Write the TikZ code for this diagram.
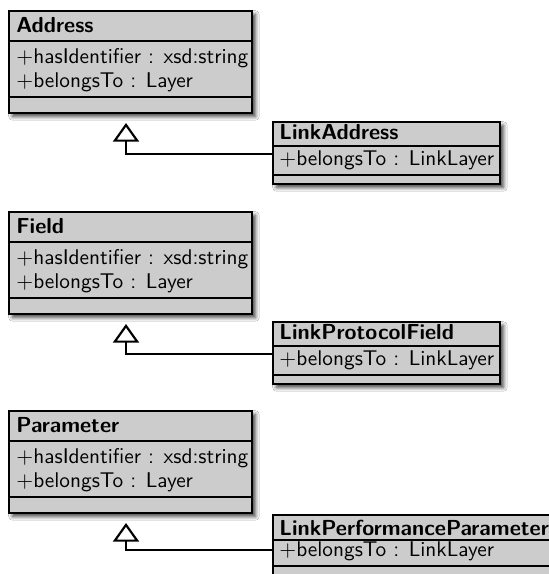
\documentclass[tikz,border=0pt]{standalone}
\usepackage{fontspec}
\usetikzlibrary{fit,arrows.meta,shadows.blur}
\tikzset{
  classbox/.style={draw=black, line width=1.3pt, fill=black!20, inner sep=0pt,
    blur shadow={shadow xshift=1.6pt, shadow yshift=-1.6pt, shadow blur steps=6, shadow opacity=75}},
  sepline/.style={line width=1pt, black},
  ctitle/.style={anchor=base west, inner sep=0pt, font=\sffamily\bfseries},
  cattr/.style={anchor=base west, inner sep=0pt, font=\fontsize{9.8}{12}\selectfont\sffamily},
  inherit/.style={line width=1pt, -{Triangle[open, length=8.6pt, width=12pt, line width=1pt]}}
}
\begin{document}
\begin{tikzpicture}[x=0.46pt, y=-0.46pt]
\clip (0,0) rectangle (549,574);
\fill[white] (0,0) rectangle (549,574);

% ---- Address / LinkAddress ----
\node[classbox, fit={(9,11) (252,113)}] (address) {};
\draw[sepline] (9,41) -- (252,41);
\draw[sepline] (9,97) -- (252,97);
\node[ctitle] (address-t) at (16,32) {Address};
\node[cattr] (address-a1) at (16,63) {$+$hasIdentifier : xsd:string};
\node[cattr] (address-a2) at (16,87) {$+$belongsTo : Layer};
\coordinate (address-tip) at (126,123);

\node[classbox, fit={(273,122) (500,184)}] (linkaddress) {};
\draw[sepline] (273,146) -- (500,146);
\draw[sepline] (273,175) -- (500,175);
\node[ctitle] (linkaddress-t) at (279,139) {LinkAddress};
\node[cattr] (linkaddress-a1) at (279,165) {$+$belongsTo : LinkLayer};
\draw[inherit] (linkaddress.west |- 0,154) -| (address-tip);

% ---- Field / LinkProtocolField ----
\node[classbox, fit={(9,212) (252,314)}] (field) {};
\draw[sepline] (9,242) -- (252,242);
\draw[sepline] (9,298) -- (252,298);
\node[ctitle] (field-t) at (16,233) {Field};
\node[cattr] (field-a1) at (16,264) {$+$hasIdentifier : xsd:string};
\node[cattr] (field-a2) at (16,288) {$+$belongsTo : Layer};
\coordinate (field-tip) at (126,324);

\node[classbox, fit={(273,322) (500,384)}] (linkfield) {};
\draw[sepline] (273,346) -- (500,346);
\draw[sepline] (273,375) -- (500,375);
\node[ctitle] (linkfield-t) at (279,339) {LinkProtocolField};
\node[cattr] (linkfield-a1) at (279,365) {$+$belongsTo : LinkLayer};
\draw[inherit] (linkfield.west |- 0,354) -| (field-tip);

% ---- Parameter / LinkPerformanceParameter ----
\node[classbox, fit={(9,411) (252,513)}] (parameter) {};
\draw[sepline] (9,441) -- (252,441);
\draw[sepline] (9,497) -- (252,497);
\node[ctitle] (parameter-t) at (16,432) {Parameter};
\node[cattr] (parameter-a1) at (16,463) {$+$hasIdentifier : xsd:string};
\node[cattr] (parameter-a2) at (16,487) {$+$belongsTo : Layer};
\coordinate (parameter-tip) at (126,523);

\node[classbox, fit={(273,515) (556,580)}] (linkparam) {};
\draw[sepline] (273,540) -- (556,540);
\draw[sepline] (273,566) -- (556,566);
\node[ctitle] (linkparam-t) at (279,535) {LinkPerformanceParameter};
\node[cattr] (linkparam-a1) at (279,556) {$+$belongsTo : LinkLayer};
\draw[inherit] (linkparam.west |- 0,550) -| (parameter-tip);
\end{tikzpicture}
\end{document}
